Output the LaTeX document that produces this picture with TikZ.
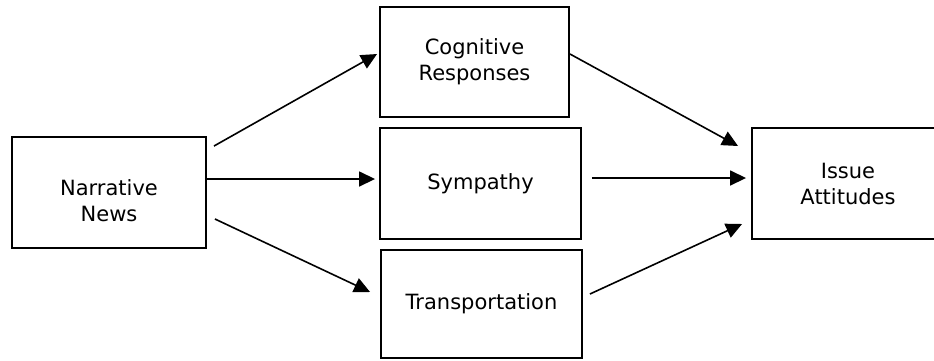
\documentclass[tikz,border=0pt]{standalone}
\usepackage{fontspec}
\setmainfont{DejaVu Sans}
\usetikzlibrary{arrows.meta}

\begin{document}
\begin{tikzpicture}[x=1pt,y=-1pt,
  box/.style={draw,line width=1.9pt,align=center,inner sep=0pt,
    font=\fontsize{21}{26}\selectfont},
  link/.style={line width=1.6pt,-{Triangle[length=16pt,width=15pt]}}]
\useasboundingbox (0,0) rectangle (934,360);
\node[box,minimum width=194pt,minimum height=111pt,text height=59pt] (news) at (109,192.5) {Narrative\\News};
\node[box,minimum width=189pt,minimum height=110pt] (cog) at (474.5,62) {Cognitive\\Responses};
\node[box,minimum width=201pt,minimum height=111pt] (sym) at (480.5,183.5) {Sympathy};
\node[box,minimum width=201pt,minimum height=108pt] (trans) at (481.5,304) {Transportation};
\node[box,minimum width=192pt,minimum height=111pt] (iss) at (848,183.5) {Issue\\Attitudes};
\draw[link] ([shift={(7,10)}]news.north east) -- ([shift={(-2,-8)}]cog.west);
\draw[link] ([shift={(-2,-13.5)}]news.east) -- ([shift={(-4,-4.5)}]sym.west);
\draw[link] ([shift={(8,26.5)}]news.east) -- ([shift={(-10,-12)}]trans.west);
\draw[link] ([shift={(0,-8)}]cog.east) -- ([shift={(-13,-37.5)}]iss.west);
\draw[link] ([shift={(10,-5.5)}]sym.east) -- ([shift={(-5,-5.5)}]iss.west);
\draw[link] ([shift={(7,-10)}]trans.east) -- ([shift={(-9,40.5)}]iss.west);
\end{tikzpicture}
\end{document}
